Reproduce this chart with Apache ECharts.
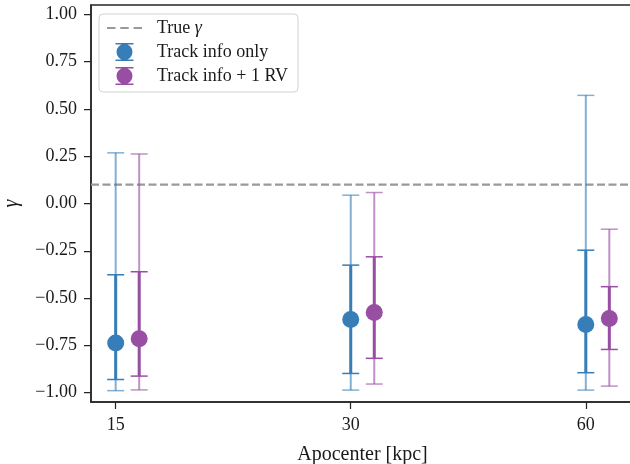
<!DOCTYPE html>
<html>
<head>
<meta charset="utf-8">
<script src="https://cdn.jsdelivr.net/npm/echarts@6/dist/echarts.min.js"></script>
<style>
  html, body { margin: 0; padding: 0; background: #fff; }
  #chart { width: 630px; height: 464px; }
</style>
</head>
<body>
<div id="chart"></div>
<script>
// Apocenter categories (kpc) and the input slope of the density profile
const apocenters = ['15', '30', '60'];
const trueGamma = 0.1;
const yTicks = [-1, -0.75, -0.5, -0.25, 0, 0.25, 0.5, 0.75, 1];

// Posterior summaries for gamma: median, inner (68%) and outer (95%) intervals
const trackMedian  = [-0.738, -0.613, -0.640];
const trackInnerLo = [-0.931, -0.899, -0.895];
const trackInnerHi = [-0.377, -0.326, -0.247];
const trackOuterLo = [-0.990, -0.987, -0.987];
const trackOuterHi = [ 0.268,  0.044,  0.572];

const rvMedian  = [-0.715, -0.576, -0.608];
const rvInnerLo = [-0.913, -0.819, -0.772];
const rvInnerHi = [-0.361, -0.282, -0.440];
const rvOuterLo = [-0.986, -0.955, -0.966];
const rvOuterHi = [ 0.262,  0.058, -0.136];

const BLUE = '#377eb8';
const PURPLE = '#984ea3';
const FONT = 'Liberation Serif';
const X_MIN = -0.105, X_MAX = 2.205;
const DODGE = 0.1;

function rows(offset, lo, hi, ilo, ihi) {
  return apocenters.map((_, i) => [i + offset, lo[i], hi[i], ilo[i], ihi[i]]);
}
function points(offset, med) {
  return apocenters.map((_, i) => [i + offset, med[i]]);
}

function errorBars(color, light) {
  return function (params, api) {
    const x = api.value(0);
    const oLo = api.coord([x, api.value(1)]);
    const oHi = api.coord([x, api.value(2)]);
    const iLo = api.coord([x, api.value(3)]);
    const iHi = api.coord([x, api.value(4)]);
    const px = oLo[0];
    const cap = 8.5;
    const seg = (x1, y1, x2, y2, stroke, w) => ({
      type: 'line',
      shape: { x1, y1, x2, y2 },
      style: { stroke, lineWidth: w }
    });
    return {
      type: 'group',
      children: [
        seg(px, oLo[1], px, oHi[1], light, 2),
        seg(px - cap, oLo[1], px + cap, oLo[1], light, 1.5),
        seg(px - cap, oHi[1], px + cap, oHi[1], light, 1.5),
        seg(px, iLo[1], px, iHi[1], color, 3),
        seg(px - cap, iLo[1], px + cap, iLo[1], color, 1.5),
        seg(px - cap, iHi[1], px + cap, iHi[1], color, 1.5)
      ]
    };
  };
}

// Legend glyphs: marker with error caps, and a three-dash line sample
const errIcon = 'path://M0,0H18V1.5H0Z M0,16.5H18V18H0Z M8.25,0H9.75V18H8.25Z M9,1A8,8 0 1,1 8.99,1Z';
const dashIcon = 'path://M0,0H8.5V2.2H0Z M13.25,0H21.75V2.2H13.25Z M26.5,0H35V2.2H26.5Z';

const axisColor = '#262626';

const chart = echarts.init(document.getElementById('chart'), null, { renderer: 'canvas' });
chart.setOption({
  animation: false,
  backgroundColor: '#ffffff',
  grid: {
    left: 91, top: 5, width: 543, height: 397,
    containLabel: false,
    outerBoundsMode: 'none',
    show: true, borderColor: axisColor, borderWidth: 1.5, backgroundColor: 'transparent'
  },
  legend: {
    orient: 'vertical',
    left: 99, top: 14,
    itemWidth: 35, itemHeight: 18, itemGap: 6,
    padding: [5, 10, 7, 8],
    backgroundColor: 'rgba(255,255,255,0.85)',
    borderColor: '#d3d3d3', borderWidth: 1, borderRadius: 4,
    textStyle: {
      fontFamily: FONT, fontSize: 18, color: '#1a1a1a', padding: [0, 0, 0, 10],
      rich: { g: { fontFamily: FONT, fontSize: 18, fontStyle: 'italic', color: '#1a1a1a' } }
    },
    formatter: name => name === 'True γ' ? 'True {g|γ}' : name,
    data: [
      { name: 'True γ', icon: dashIcon },
      { name: 'Track info only', icon: errIcon },
      { name: 'Track info + 1 RV', icon: errIcon }
    ]
  },
  xAxis: {
    type: 'value',
    min: X_MIN, max: X_MAX,
    name: 'Apocenter [kpc]',
    nameLocation: 'middle',
    nameGap: 43,
    nameTextStyle: { fontFamily: FONT, fontSize: 20, color: '#1a1a1a' },
    axisLine: { show: true, onZero: false, lineStyle: { color: axisColor, width: 1.5 } },
    axisTick: { show: true, customValues: [0, 1, 2], length: 7, inside: false,
      lineStyle: { color: axisColor, width: 1.25 } },
    axisLabel: { customValues: [0, 1, 2], margin: 14, fontFamily: FONT, fontSize: 18, color: '#1a1a1a',
      formatter: v => apocenters[Math.round(v)] },
    splitLine: { show: false }
  },
  yAxis: {
    type: 'value',
    min: -1.05, max: 1.05,
    name: 'γ',
    nameLocation: 'middle',
    nameGap: 69,
    nameRotate: 90,
    nameTextStyle: { fontFamily: FONT, fontSize: 20, fontStyle: 'italic', color: '#1a1a1a' },
    axisLine: { show: true, onZero: false, lineStyle: { color: axisColor, width: 1.5 } },
    axisTick: { show: true, customValues: yTicks, length: 7, inside: false,
      lineStyle: { color: axisColor, width: 1.25 } },
    axisLabel: { customValues: yTicks, margin: 14, fontFamily: FONT, fontSize: 18, color: '#1a1a1a',
      formatter: v => (v < -1e-9 ? '\u2212' : '') + Math.abs(v).toFixed(2) },
    splitLine: { show: false }
  },
  series: [
    {
      name: 'True γ',
      type: 'line',
      symbol: 'none',
      data: [[X_MIN, trueGamma], [X_MAX, trueGamma]],
      itemStyle: { color: '#999999' },
      lineStyle: { color: '#999999', width: 2.2, type: [8, 3.5] },
      z: 1
    },
    {
      type: 'custom',
      renderItem: errorBars(BLUE, 'rgba(55,126,184,0.62)'),
      data: rows(0, trackOuterLo, trackOuterHi, trackInnerLo, trackInnerHi),
      encode: { x: 0, y: [1, 2, 3, 4] },
      z: 2
    },
    {
      type: 'custom',
      renderItem: errorBars(PURPLE, 'rgba(152,78,163,0.62)'),
      data: rows(DODGE, rvOuterLo, rvOuterHi, rvInnerLo, rvInnerHi),
      encode: { x: 0, y: [1, 2, 3, 4] },
      z: 2
    },
    {
      name: 'Track info only',
      type: 'scatter',
      symbol: 'circle',
      symbolSize: 17,
      data: points(0, trackMedian),
      itemStyle: { color: BLUE, opacity: 1 },
      z: 3
    },
    {
      name: 'Track info + 1 RV',
      type: 'scatter',
      symbol: 'circle',
      symbolSize: 17,
      data: points(DODGE, rvMedian),
      itemStyle: { color: PURPLE, opacity: 1 },
      z: 3
    }
  ]
});
</script>
</body>
</html>
